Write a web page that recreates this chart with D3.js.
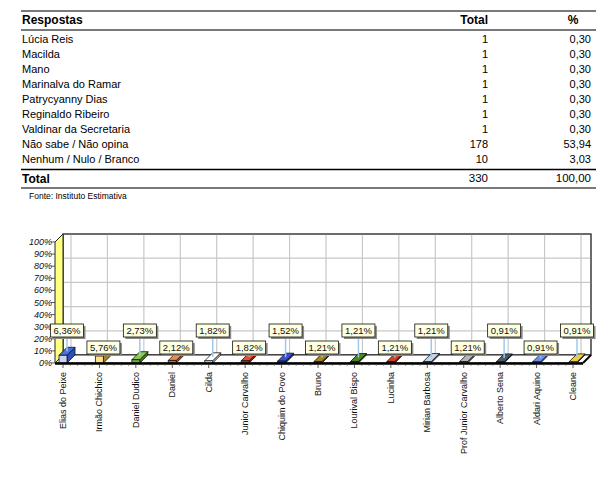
<!DOCTYPE html>
<html>
<head>
<meta charset="utf-8">
<script src="https://cdn.jsdelivr.net/npm/d3@7/dist/d3.min.js"></script>
<style>
  html, body { margin: 0; padding: 0; background: #fff; }
  svg { display: block; font-family: "Liberation Sans", Arial, sans-serif; }
</style>
</head>
<body>
<svg id="chart" width="614" height="477"></svg>
<script>
// ---------- Table data ----------
const tableNames = ["Lúcia Reis", "Macilda", "Mano", "Marinalva do Ramar", "Patrycyanny Dias",
  "Reginaldo Ribeiro", "Valdinar da Secretaria", "Não sabe / Não opina", "Nenhum / Nulo / Branco"];
const tableTotals = ["1", "1", "1", "1", "1", "1", "1", "178", "10"];
const tablePcts = ["0,30", "0,30", "0,30", "0,30", "0,30", "0,30", "0,30", "53,94", "3,03"];
const totalRow = { label: "Total", total: "330", pct: "100,00" };
const sourceText = "Fonte: Instituto Estimativa";

// ---------- Chart data ----------
const categories = ["Elias do Peixe", "Irmão Chichico", "Daniel Dudico", "Daniel", "Cilda",
  "Junior Carvalho", "Chiquim do Povo", "Bruno", "Lourival Bispo", "Lucinha",
  "Mirian Barbosa", "Prof Junior Carvalho", "Alberto Sena", "Aldari Aquino", "Cleane"];
const values = [6.36, 5.76, 2.73, 2.12, 1.82, 1.82, 1.52, 1.21, 1.21, 1.21, 1.21, 1.21, 0.91, 0.91, 0.91];
const yTicks = [0, 10, 20, 30, 40, 50, 60, 70, 80, 90, 100];

// palette: [front, top, side]
const palette = [
  ["#c9d3f7", "#4a6fe0", "#2f4fb8"],
  ["#ffe38a", "#e8c25a", "#a4822c"],
  ["#6fae3a", "#8cc84e", "#3f7a1c"],
  ["#e0621e", "#f08a3c", "#a84210"],
  ["#f4f4f4", "#ffffff", "#c8c8c8"],
  ["#c8321e", "#e05036", "#8c1e10"],
  ["#1c34c8", "#3850e0", "#0e1e8c"],
  ["#8a6a12", "#a6841e", "#5c460a"],
  ["#3a6a16", "#4e8422", "#22440a"],
  ["#b8281a", "#d0402a", "#801408"],
  ["#a8bedc", "#c4d4ec", "#7890b4"],
  ["#9a9a9a", "#b4b4b4", "#6c6c6c"],
  ["#34444e", "#4a5c68", "#1e2a32"],
  ["#4474e0", "#6890f0", "#2a50b0"],
  ["#e2b424", "#f0cc40", "#a88010"]
];

const svg = d3.select("#chart");

// ---------- Table ----------
const tbl = svg.append("g");
const tLeft = 21, tRight = 596;
tbl.append("line").attr("x1", tLeft).attr("x2", tRight).attr("y1", 11).attr("y2", 11)
  .attr("stroke", "#7a7a7a").attr("stroke-width", 2);
tbl.append("text").attr("x", 22).attr("y", 24).attr("font-size", 12).attr("font-weight", "bold").text("Respostas");
tbl.append("text").attr("x", 488).attr("y", 24).attr("font-size", 12).attr("font-weight", "bold")
  .attr("text-anchor", "end").text("Total");
tbl.append("text").attr("x", 573).attr("y", 24).attr("font-size", 12).attr("font-weight", "bold")
  .attr("text-anchor", "middle").text("%");
tbl.append("line").attr("x1", tLeft).attr("x2", tRight).attr("y1", 30).attr("y2", 30)
  .attr("stroke", "#7a7a7a").attr("stroke-width", 2);

const rowY = d3.scaleLinear().domain([0, 1]).range([43, 58]);
tableNames.forEach((n, i) => {
  const y = rowY(i);
  tbl.append("text").attr("x", 22).attr("y", y).attr("font-size", 11).text(n);
  tbl.append("text").attr("x", 488).attr("y", y).attr("font-size", 11).attr("text-anchor", "end").text(tableTotals[i]);
  tbl.append("text").attr("x", 591).attr("y", y).attr("font-size", 11).attr("text-anchor", "end").text(tablePcts[i]);
});
tbl.append("line").attr("x1", tLeft).attr("x2", tRight).attr("y1", 169.5).attr("y2", 169.5)
  .attr("stroke", "#000").attr("stroke-width", 1.5);
tbl.append("text").attr("x", 22).attr("y", 183).attr("font-size", 12).attr("font-weight", "bold").text(totalRow.label);
tbl.append("text").attr("x", 488).attr("y", 182).attr("font-size", 11.5).attr("text-anchor", "end").text(totalRow.total);
tbl.append("text").attr("x", 591).attr("y", 182).attr("font-size", 11.5).attr("text-anchor", "end").text(totalRow.pct);
tbl.append("line").attr("x1", tLeft).attr("x2", tRight).attr("y1", 188).attr("y2", 188)
  .attr("stroke", "#7a7a7a").attr("stroke-width", 2);
tbl.append("text").attr("x", 29).attr("y", 199).attr("font-size", 8.5).text(sourceText);

// ---------- Chart ----------
const dx = 8, dy = -8;
const axisLeft = 55, axisRight = 583;
const y = d3.scaleLinear().domain([0, 100]).range([363, 242]);
const x = d3.scalePoint().domain(categories).range([63, 573]);
const g = svg.append("g");

// back wall
g.append("rect").attr("x", axisLeft + dx).attr("y", y(100) + dy)
  .attr("width", axisRight - axisLeft).attr("height", y(0) - y(100))
  .attr("fill", "#fff").attr("stroke", "#555").attr("stroke-width", 1);

// horizontal gridlines on back wall
[20, 40, 60, 80].forEach(v => {
  g.append("line").attr("x1", axisLeft + dx).attr("x2", axisRight + dx)
    .attr("y1", y(v) + dy).attr("y2", y(v) + dy)
    .attr("stroke", "#c8c8c8").attr("stroke-width", 1.2);
});
// vertical gridlines on back wall
categories.forEach(c => {
  g.append("line").attr("x1", x(c) + dx).attr("x2", x(c) + dx)
    .attr("y1", y(100) + dy).attr("y2", y(0) + dy)
    .attr("stroke", "#c8c8c8").attr("stroke-width", 1.2);
});
// redraw back wall border on top of grid
g.append("rect").attr("x", axisLeft + dx).attr("y", y(100) + dy)
  .attr("width", axisRight - axisLeft).attr("height", y(0) - y(100))
  .attr("fill", "none").attr("stroke", "#444").attr("stroke-width", 1.2);

// left wall (yellow)
g.append("polygon")
  .attr("points", [[axisLeft, y(0)], [axisLeft, y(100)], [axisLeft + dx, y(100) + dy], [axisLeft + dx, y(0) + dy]].join(" "))
  .attr("fill", "#ffff80").attr("stroke", "#222").attr("stroke-width", 1);

// floor
g.append("polygon")
  .attr("points", [[axisLeft, y(0)], [axisRight, y(0)], [axisRight + dx, y(0) + dy], [axisLeft + dx, y(0) + dy]].join(" "))
  .attr("fill", "#fff").attr("stroke", "#222").attr("stroke-width", 1);

// y axis labels with ticks
yTicks.forEach(v => {
  g.append("line").attr("x1", axisLeft - 4).attr("x2", axisLeft).attr("y1", y(v)).attr("y2", y(v))
    .attr("stroke", "#333").attr("stroke-width", 0.8);
  g.append("text").attr("x", axisLeft - 3).attr("y", y(v) + 3).attr("font-size", 9)
    .attr("font-style", "italic").attr("text-anchor", "end").attr("fill", "#111").text(v + "%");
});

// bars
const half = 4;
categories.forEach((c, i) => {
  const cx = x(c), yv = y(values[i]), yb = y(0);
  const col = palette[i];
  const bg = g.append("g").attr("stroke", "#111").attr("stroke-width", 0.8).attr("stroke-linejoin", "round");
  bg.append("polygon")
    .attr("points", [[cx + half, yv], [cx + half + dx, yv + dy], [cx + half + dx, yb + dy], [cx + half, yb]].join(" "))
    .attr("fill", col[2]);
  bg.append("polygon")
    .attr("points", [[cx - half, yv], [cx + half, yv], [cx + half + dx, yv + dy], [cx - half + dx, yv + dy]].join(" "))
    .attr("fill", col[1]);
  bg.append("rect").attr("x", cx - half).attr("y", yv).attr("width", 2 * half).attr("height", yb - yv)
    .attr("fill", col[0]);
});

// front axis line (thick)
g.append("line").attr("x1", axisLeft).attr("x2", axisRight).attr("y1", y(0) + 0.5).attr("y2", y(0) + 0.5)
  .attr("stroke", "#000").attr("stroke-width", 2.5);
g.append("line").attr("x1", axisRight).attr("x2", axisRight + dx).attr("y1", y(0)).attr("y2", y(0) + dy)
  .attr("stroke", "#000").attr("stroke-width", 2);

// x ticks: major + minor
const step = x.step();
categories.forEach((c, i) => {
  const cx = x(c);
  g.append("line").attr("x1", cx).attr("x2", cx).attr("y1", y(0) + 1).attr("y2", y(0) + 5)
    .attr("stroke", "#333").attr("stroke-width", 0.8);
  if (i < categories.length - 1) {
    for (let k = 1; k <= 4; k++) {
      const mx = cx + step * k / 5;
      g.append("line").attr("x1", mx).attr("x2", mx).attr("y1", y(0) + 1).attr("y2", y(0) + 3)
        .attr("stroke", "#555").attr("stroke-width", 0.6);
    }
  }
});

// x labels (rotated)
categories.forEach(c => {
  g.append("text")
    .attr("transform", `translate(${x(c) + 3},${y(0) + 9}) rotate(-90)`)
    .attr("font-size", 9).attr("text-anchor", "end").attr("fill", "#111").text(c);
});

// value labels with leader lines
const boxW = 33, boxH = 13;
const rowTop = [324, 341];
categories.forEach((c, i) => {
  const cx = x(c) + half;
  const yv = y(values[i]) + dy / 2;
  const by = rowTop[i % 2];
  g.append("line").attr("x1", cx).attr("x2", cx).attr("y1", by + boxH).attr("y2", yv)
    .attr("stroke", "#9cc8f0").attr("stroke-width", 1.5);
  g.append("rect").attr("x", cx - boxW / 2 + 2).attr("y", by + 2).attr("width", boxW).attr("height", boxH)
    .attr("fill", "#8a8a8a");
  g.append("rect").attr("x", cx - boxW / 2).attr("y", by).attr("width", boxW).attr("height", boxH)
    .attr("fill", "#ffffe1").attr("stroke", "#111").attr("stroke-width", 0.8);
  g.append("text").attr("x", cx).attr("y", by + 10).attr("font-size", 9.5).attr("text-anchor", "middle")
    .attr("fill", "#111").text(values[i].toFixed(2).replace(".", ",") + "%");
});
</script>
</body>
</html>
